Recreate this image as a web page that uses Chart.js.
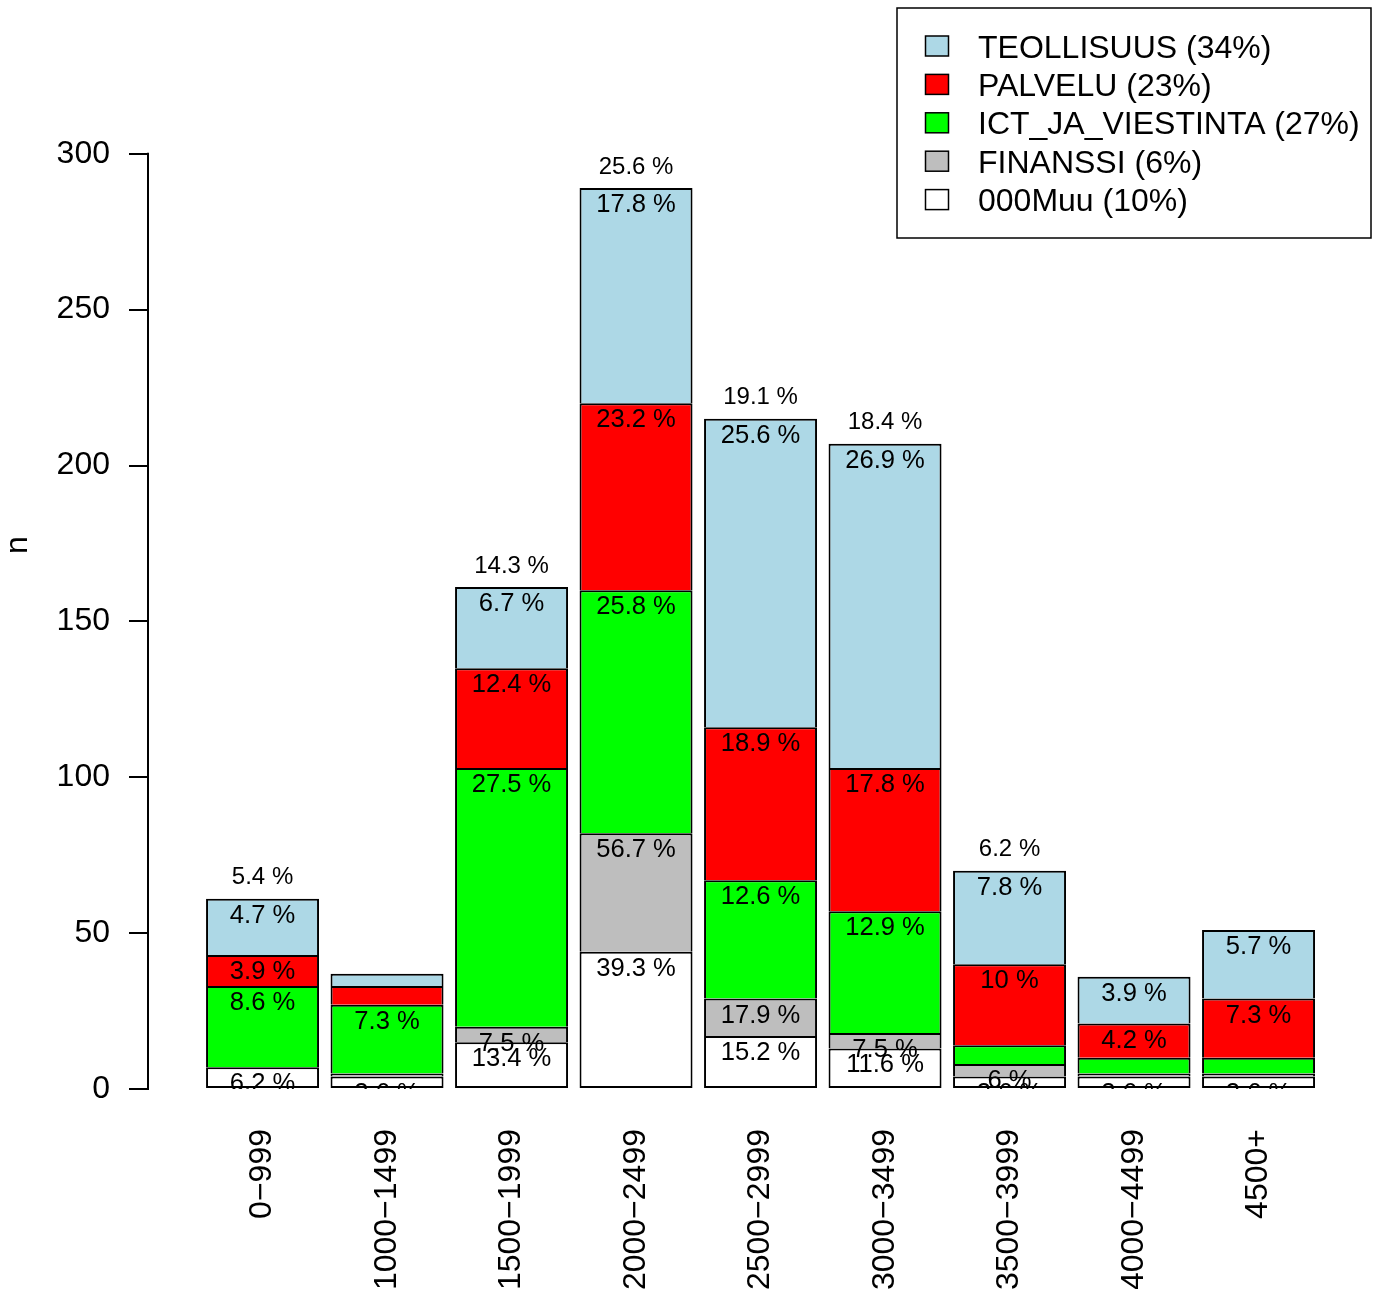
<!DOCTYPE html>
<html>
<head>
<meta charset="utf-8">
<script src="https://cdn.jsdelivr.net/npm/chart.js@4.4.1/dist/chart.umd.min.js"></script>
<style>
    html, body { margin: 0; padding: 0; background: #ffffff; }
    canvas { display: block; }
</style>
</head>
<body>
<canvas id="barChart" width="1379" height="1289"></canvas>
<script>
// palkit alhaalta ylös: 000Muu, FINANSSI, ICT, PALVELU, TEOLLISUUS
const CategoriesArray = ["0−999", "1000−1499", "1500−1999", "2000−2499", "2500−2999", "3000−3499", "3500−3999", "4000−4499", "4500+"];
const MuuValues = [7, 4, 15, 44, 17, 13, 4, 4, 4];
const FinanssiValues = [0, 1, 5, 38, 12, 5, 4, 1, 1];
const IctValues = [26, 22, 83, 78, 38, 39, 6, 5, 5];
const PalveluValues = [10, 6, 32, 60, 49, 46, 26, 11, 19];
const TeollisuusValues = [18, 4, 26, 69, 99, 104, 30, 15, 22];
const YTickValues = [0, 50, 100, 150, 200, 250, 300];

const SeriesNames = ["000Muu", "FINANSSI", "ICT_JA_VIESTINTA", "PALVELU", "TEOLLISUUS"];
const SeriesColors = ["#FFFFFF", "#BEBEBE", "#00FF00", "#FF0000", "#ADD8E6"];
const SeriesValues = [MuuValues, FinanssiValues, IctValues, PalveluValues, TeollisuusValues];

const FontFamily = "'Liberation Sans', Arial, Helvetica, sans-serif";

let jFSum = ({ inData }) => inData.reduce((a, b) => a + b, 0);

// R:n round() pyöristää puolikkaat parilliseen
let jFRound1 = ({ inValue }) => {
    let x10 = inValue * 10;
    let fl = Math.floor(x10);
    if (Math.abs(x10 - fl - 0.5) < 1e-9) return (fl % 2 === 0 ? fl : fl + 1) / 10;
    return Math.round(x10) / 10;
};

let jVarSeriesTotals = SeriesValues.map(v => jFSum({ inData: v }));
let jVarGrandTotal = jFSum({ inData: jVarSeriesTotals });
let jVarBarTotals = CategoriesArray.map((c, i) => jFSum({ inData: SeriesValues.map(v => v[i]) }));

const LabelsPlugin = {
    id: 'barLabels',
    afterDatasetsDraw: (chart) => {
        const ctx = chart.ctx;
        const area = chart.chartArea;
        const yScale = chart.scales.y;
        ctx.save();
        ctx.beginPath();
        ctx.rect(area.left, area.top, area.right - area.left, area.bottom - area.top);
        ctx.clip();
        ctx.fillStyle = "#000000";
        ctx.textAlign = "center";
        ctx.textBaseline = "alphabetic";

        ctx.font = "25.6px " + FontFamily;
        chart.data.datasets.forEach((ds, k) => {
            let meta = chart.getDatasetMeta(k);
            meta.data.forEach((bar, i) => {
                let pct = ds.data[i].y / jVarSeriesTotals[k] * 100;
                if (pct < 3) return;
                ctx.fillText(jFRound1({ inValue: pct }) + " %", bar.x, bar.y + 24);
            });
        });

        ctx.font = "24px " + FontFamily;
        let topMeta = chart.getDatasetMeta(chart.data.datasets.length - 1);
        jVarBarTotals.forEach((total, i) => {
            let pct = total / jVarGrandTotal * 100;
            if (pct <= 5) return;
            ctx.fillText(jFRound1({ inValue: pct }) + " %", topMeta.data[i].x, yScale.getPixelForValue(total) - 14.5);
        });
        ctx.restore();
    },
    afterDraw: (chart) => {
        const ctx = chart.ctx;
        const yScale = chart.scales.y;
        // y-akselin viiva vain tikkien välille
        ctx.save();
        ctx.strokeStyle = "#000000";
        ctx.lineWidth = 2;
        ctx.beginPath();
        ctx.moveTo(chart.chartArea.left, yScale.getPixelForValue(YTickValues[0]) + 1);
        ctx.lineTo(chart.chartArea.left, yScale.getPixelForValue(YTickValues[YTickValues.length - 1]) - 1);
        ctx.stroke();

        // selite
        ctx.lineWidth = 1.5;
        ctx.fillStyle = "#FFFFFF";
        ctx.fillRect(897, 8, 474, 230);
        ctx.strokeRect(897, 8, 474, 230);
        ctx.font = "32px " + FontFamily;
        ctx.textAlign = "left";
        ctx.textBaseline = "alphabetic";
        for (let r = 0; r < SeriesNames.length; r++) {
            let k = SeriesNames.length - 1 - r;
            let cy = 46 + r * 38.4;
            ctx.fillStyle = SeriesColors[k];
            ctx.fillRect(925.5, cy - 10, 23, 20);
            ctx.lineWidth = 1.5;
            ctx.strokeRect(925.5, cy - 10, 23, 20);
            ctx.fillStyle = "#000000";
            let pct = Math.round(jVarSeriesTotals[k] / jVarGrandTotal * 100);
            ctx.fillText(SeriesNames[k] + " (" + pct + "%)", 978, cy + 11.5);
        }
        ctx.restore();
    }
};

const StartFunc = () => {
    const ctx = document.getElementById('barChart');

    let jVarDatasets = SeriesValues.map((values, k) => ({
        label: SeriesNames[k],
        data: values.map((v, i) => ({ x: i, y: v })),
        backgroundColor: SeriesColors[k],
        borderColor: "#000000",
        borderWidth: 2,
        borderSkipped: k === 0 ? false : 'start',
        barPercentage: 0.9076,
        categoryPercentage: 1
    }));

    new Chart(ctx, {
        type: 'bar',
        data: { datasets: jVarDatasets },
        plugins: [LabelsPlugin],
        options: {
            responsive: false,
            animation: false,
            devicePixelRatio: 1,
            layout: { padding: { top: 1, right: 20.86, bottom: 0, left: 0 } },
            plugins: {
                legend: { display: false },
                tooltip: { enabled: false }
            },
            scales: {
                x: {
                    type: 'linear',
                    stacked: true,
                    offset: false,
                    min: -0.92,
                    max: 8.8,
                    grid: { display: false },
                    border: { display: false },
                    afterBuildTicks: (scale) => {
                        scale.ticks = CategoriesArray.map((c, i) => ({ value: i }));
                    },
                    afterFit: (scale) => {
                        scale.height = 200;
                        scale.paddingLeft = 0;
                        scale.paddingRight = 0;
                    },
                    ticks: {
                        autoSkip: false,
                        minRotation: 90,
                        maxRotation: 90,
                        padding: 32,
                        color: "#000000",
                        font: { family: FontFamily, size: 32, lineHeight: 0 },
                        callback: (value) => CategoriesArray[value]
                    }
                },
                y: {
                    stacked: true,
                    min: 0,
                    max: 349,
                    border: { display: false },
                    grid: {
                        drawOnChartArea: false,
                        drawTicks: true,
                        tickLength: 19,
                        color: "#000000",
                        lineWidth: 2
                    },
                    afterBuildTicks: (scale) => {
                        scale.ticks = YTickValues.map(v => ({ value: v }));
                    },
                    afterFit: (scale) => {
                        scale.width = 148;
                        scale.paddingTop = 0;
                        scale.paddingBottom = 0;
                    },
                    ticks: {
                        padding: 19,
                        color: "#000000",
                        font: { family: FontFamily, size: 32 }
                    },
                    title: {
                        display: true,
                        text: 'n',
                        color: "#000000",
                        padding: { top: 2, bottom: 0 },
                        font: { family: FontFamily, size: 32, lineHeight: 1 }
                    }
                }
            }
        }
    });
};

StartFunc();
</script>
</body>
</html>
